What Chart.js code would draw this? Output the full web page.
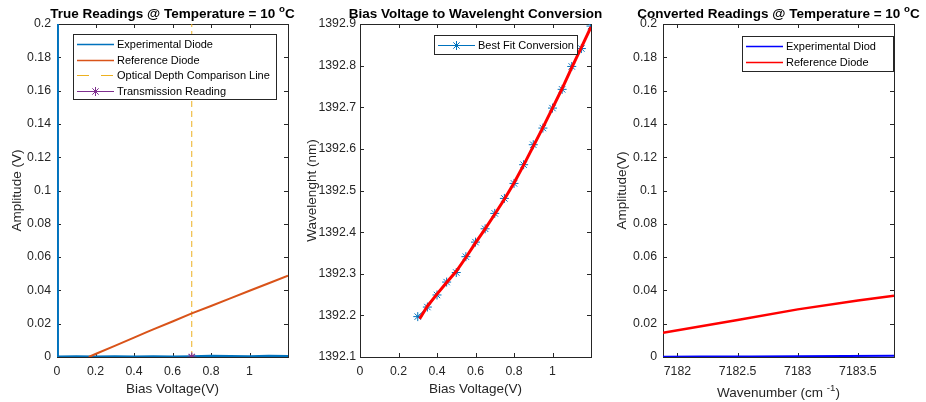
<!DOCTYPE html>
<html>
<head>
<meta charset="utf-8">
<script src="https://cdn.jsdelivr.net/npm/chart.js@4.4.1/dist/chart.umd.min.js"></script>
<style>
  html, body { margin: 0; padding: 0; background: #fff; }
  #wrap { position: relative; width: 926px; height: 402px; }
  canvas { position: absolute; top: 0; }
</style>
</head>
<body>
<div id="wrap">
  <canvas id="c1" width="300" height="402" style="left:0px"></canvas>
  <canvas id="c2" width="310" height="402" style="left:300px"></canvas>
  <canvas id="c3" width="316" height="402" style="left:610px"></canvas>
</div>
<script>
// tick labels
const biasTicks = [0, 0.2, 0.4, 0.6, 0.8, 1];
const ampTicks = [0, 0.02, 0.04, 0.06, 0.08, 0.1, 0.12, 0.14, 0.16, 0.18, 0.2];
const waveTicks = [1392.1, 1392.2, 1392.3, 1392.4, 1392.5, 1392.6, 1392.7, 1392.8, 1392.9];
const wnTicks = [7182, 7182.5, 7183, 7183.5];

// panel 1: true readings
const expBias = [0.004, 0.005, 0.1, 0.2, 0.3, 0.4, 0.5, 0.6, 0.7, 0.8, 0.9, 1.0, 1.1, 1.2];
const expAmp = [0.3, 0.0003, 0.0004, 0.0003, 0.0005, 0.0003, 0.0004, 0.0003, 0.0005, 0.0007, 0.0006, 0.0005, 0.0007, 0.0006];
const refBias = [0.165, 0.2, 0.3, 0.4, 0.466, 0.5, 0.6, 0.7, 0.8, 0.9, 1.0, 1.1, 1.2];
const refAmp = [0, 0.0018, 0.0067, 0.0116, 0.0149, 0.0166, 0.0213, 0.0262, 0.0306, 0.0352, 0.0398, 0.0443, 0.0488];
const depthBias = [0.7, 0.7];
const depthAmp = [0, 0.2];
const transBias = [0.7];
const transAmp = [0];

// panel 2: bias to wavelength
const fitBias = [0.3, 0.35, 0.4, 0.45, 0.5, 0.55, 0.6, 0.65, 0.7, 0.75, 0.8, 0.85, 0.9, 0.95, 1.0, 1.05, 1.1, 1.15, 1.2];
const fitWave = [1392.197, 1392.220, 1392.249, 1392.280, 1392.303, 1392.341, 1392.376, 1392.408, 1392.445, 1392.481,
                 1392.517, 1392.562, 1392.610, 1392.650, 1392.698, 1392.743, 1392.798, 1392.841, 1392.895];
const curveBias = [0.31, 0.35, 0.4, 0.45, 0.5, 0.55, 0.6, 0.65, 0.7, 0.75, 0.8, 0.85, 0.9, 0.95, 1.0, 1.05, 1.1, 1.15, 1.2];
const curveWave = [1392.192, 1392.222, 1392.251, 1392.279, 1392.306, 1392.339, 1392.374, 1392.408, 1392.443, 1392.479,
                   1392.518, 1392.561, 1392.606, 1392.651, 1392.698, 1392.745, 1392.795, 1392.844, 1392.893];

// panel 3: converted readings
const convExpWn = [7181.88, 7182.2, 7182.6, 7183.0, 7183.4, 7183.8];
const convExpAmp = [0.0002, 0.0003, 0.0003, 0.0005, 0.0006, 0.0007];
const convRefWn = [7181.88, 7182.5, 7183.0, 7183.5, 7183.8];
const convRefAmp = [0.0146, 0.0222, 0.0286, 0.0340, 0.0368];

const FONT = 'Liberation Sans, Arial, Helvetica, sans-serif';
const INK = '#262626';

function pts(xs, ys) {
  return xs.map((x, i) => ({ x: x, y: ys[i] }));
}

function drawRuns(ctx, runs, cx, y, size, bold) {
  const w = bold ? 'bold ' : '';
  const fonts = runs.map(r => w + (r.sup ? size * 0.72 : size) + 'px ' + FONT);
  const widths = runs.map((r, i) => { ctx.font = fonts[i]; return ctx.measureText(r.t).width; });
  let x = cx - widths.reduce((a, b) => a + b, 0) / 2;
  runs.forEach((r, i) => {
    ctx.font = fonts[i];
    ctx.fillText(r.t, x, r.sup ? y - size * 0.42 : y);
    x += widths[i];
  });
}

// box, inward ticks (under the data), then boxed legend, title and superscript labels
const frame = {
  id: 'frame',
  beforeDatasetsDraw(chart) {
    const ctx = chart.ctx, a = chart.chartArea;
    const xs = chart.scales.x, ys = chart.scales.y, tl = 4;
    ctx.save();
    ctx.strokeStyle = INK;
    ctx.lineWidth = 1;
    ctx.beginPath();
    xs.ticks.forEach(t => {
      const p = Math.round(xs.getPixelForValue(t.value)) + 0.5;
      ctx.moveTo(p, a.bottom); ctx.lineTo(p, a.bottom - tl);
      ctx.moveTo(p, a.top); ctx.lineTo(p, a.top + tl);
    });
    ys.ticks.forEach(t => {
      const p = Math.round(ys.getPixelForValue(t.value)) + 0.5;
      ctx.moveTo(a.left, p); ctx.lineTo(a.left + tl, p);
      ctx.moveTo(a.right, p); ctx.lineTo(a.right - tl, p);
    });
    ctx.stroke();
    ctx.strokeRect(a.left + 0.5, a.top + 0.5, a.right - a.left, a.bottom - a.top);
    ctx.restore();
  },
  afterDraw(chart) {
    const o = chart.options.plugins.frame;
    const ctx = chart.ctx, a = chart.chartArea;
    ctx.save();
    ctx.strokeStyle = INK;
    ctx.lineWidth = 1;

    // legend
    const lg = o.legend;
    const bx = a.left + lg.left, by = a.top + lg.top;
    ctx.fillStyle = '#fff';
    ctx.fillRect(bx, by, lg.width, lg.height);
    ctx.strokeRect(bx + 0.5, by + 0.5, lg.width, lg.height);
    lg.items.forEach((di, i) => {
      const ds = chart.data.datasets[di];
      const yy = Math.round(by + 10 + i * 15.6) + 0.5;
      ctx.save();
      ctx.strokeStyle = ds.borderColor;
      ctx.lineWidth = Math.min(ds.borderWidth || 1, 1.5);
      ctx.setLineDash(ds.legendDash || []);
      ctx.beginPath();
      ctx.moveTo(bx + 4, yy); ctx.lineTo(bx + 41, yy);
      ctx.stroke();
      ctx.setLineDash([]);
      if (ds.pointRadius > 0) {
        ctx.strokeStyle = ds.pointBorderColor || ds.borderColor;
        ctx.lineWidth = 1;
        Chart.helpers.drawPoint(ctx, { pointStyle: ds.pointStyle, radius: ds.pointRadius, borderWidth: 1, rotation: 0 }, bx + 22.5, yy);
      }
      ctx.restore();
      ctx.fillStyle = '#000';
      ctx.font = '11px ' + FONT;
      ctx.textBaseline = 'middle';
      ctx.textAlign = 'left';
      ctx.fillText(ds.label, bx + 44, yy);
    });

    // title
    ctx.fillStyle = '#000';
    ctx.textBaseline = 'alphabetic';
    ctx.textAlign = 'left';
    drawRuns(ctx, o.title, (a.left + a.right) / 2, 18, 13.5, true);
    if (o.xLabel) {
      ctx.fillStyle = INK;
      drawRuns(ctx, o.xLabel, (a.left + a.right) / 2, 397, 13.5, false);
    }
    ctx.restore();
  }
};

function axisX(min, max, ticks, title) {
  return {
    type: 'linear', min: min, max: max,
    afterBuildTicks: s => { s.ticks = ticks.map(v => ({ value: v })); },
    afterFit: s => { s.height = 45; },
    grid: { display: false, drawTicks: false },
    border: { display: false },
    ticks: { color: INK, font: { family: FONT, size: 12.3 }, padding: 7, autoSkip: false, maxRotation: 0, callback: v => String(v) },
    title: { display: !!title, text: title || '', color: INK, font: { family: FONT, size: 13.5 }, padding: { top: 0, bottom: 5 } }
  };
}

function axisY(min, max, ticks, title, width, pad, titlePad) {
  return {
    type: 'linear', min: min, max: max,
    afterBuildTicks: s => { s.ticks = ticks.map(v => ({ value: v })); },
    afterFit: s => { s.width = width; },
    grid: { display: false, drawTicks: false },
    border: { display: false },
    ticks: { color: INK, font: { family: FONT, size: 12.3 }, padding: pad, autoSkip: false, callback: v => String(v) },
    title: { display: true, text: title, color: INK, font: { family: FONT, size: 13.5 }, padding: { top: titlePad, bottom: 0 } }
  };
}

function baseOptions(padRight, scales, frameOpts) {
  return {
    responsive: false,
    animation: false,
    devicePixelRatio: 1,
    layout: { padding: { top: 24, right: padRight, bottom: 0, left: 0 } },
    scales: scales,
    plugins: { legend: { display: false }, tooltip: { enabled: false }, frame: frameOpts }
  };
}

const tempTitle = name => [{ t: name + ' @ Temperature = 10 ' }, { t: 'o', sup: true }, { t: 'C' }];

new Chart(document.getElementById('c1'), {
  type: 'scatter',
  data: {
    datasets: [
      { label: 'Experimental Diode', data: pts(expBias, expAmp), showLine: true, borderColor: '#0072BD', borderWidth: 2, pointRadius: 0, order: 1 },
      { label: 'Reference Diode', data: pts(refBias, refAmp), showLine: true, borderColor: '#D95319', borderWidth: 2, pointRadius: 0, order: 0 },
      { label: 'Optical Depth Comparison Line', data: pts(depthBias, depthAmp), showLine: true, borderColor: '#EDB120', borderWidth: 1, borderDash: [6, 4], legendDash: [12, 12], pointRadius: 0, order: 2 },
      { label: 'Transmission Reading', data: pts(transBias, transAmp), showLine: true, borderColor: '#7E2F8E', borderWidth: 1, pointStyle: 'star', pointRadius: 4.5, pointBorderColor: '#7E2F8E', pointBorderWidth: 1.2, order: 0 }
    ]
  },
  options: baseOptions(12, {
    x: axisX(0, 1.2, biasTicks, 'Bias Voltage(V)'),
    y: axisY(0, 0.2, ampTicks, 'Amplitude (V)', 57, 6, 9)
  }, { title: tempTitle('True Readings'), legend: { left: 16, top: 10, width: 203, height: 65, items: [0, 1, 2, 3] } }),
  plugins: [frame]
});

new Chart(document.getElementById('c2'), {
  type: 'scatter',
  data: {
    datasets: [
      { label: 'Best Fit Conversion', data: pts(fitBias, fitWave), showLine: true, borderColor: '#0072BD', borderWidth: 1, pointStyle: 'star', pointRadius: 4.5, pointBorderColor: '#0072BD', pointBorderWidth: 1, order: 1 },
      { label: 'Fit', data: pts(curveBias, curveWave), showLine: true, borderColor: '#FF0000', borderWidth: 3, pointRadius: 0, order: 0 }
    ]
  },
  options: baseOptions(19, {
    x: axisX(0, 1.2, biasTicks, 'Bias Voltage(V)'),
    y: axisY(1392.1, 1392.9, waveTicks, 'Wavelenght (nm)', 60, 4, 4)
  }, { title: [{ t: 'Bias Voltage to Wavelenght Conversion' }], legend: { left: 74, top: 11, width: 143, height: 19, items: [0] } }),
  plugins: [frame]
});

new Chart(document.getElementById('c3'), {
  type: 'scatter',
  data: {
    datasets: [
      { label: 'Experimental Diod', data: pts(convExpWn, convExpAmp), showLine: true, borderColor: '#0000FF', borderWidth: 2, pointRadius: 0, order: 1 },
      { label: 'Reference Diode', data: pts(convRefWn, convRefAmp), showLine: true, borderColor: '#FF0000', borderWidth: 2.5, pointRadius: 0, order: 0 }
    ]
  },
  options: baseOptions(32, {
    x: axisX(7181.88, 7183.8, wnTicks, null),
    y: axisY(0, 0.2, ampTicks, 'Amplitude(V)', 53, 6, 4)
  }, {
    title: tempTitle('Converted Readings'),
    xLabel: [{ t: 'Wavenumber (cm ' }, { t: '-1', sup: true }, { t: ')' }],
    legend: { left: 79, top: 12, width: 151, height: 35, items: [0, 1] }
  }),
  plugins: [frame]
});
</script>
</body>
</html>
